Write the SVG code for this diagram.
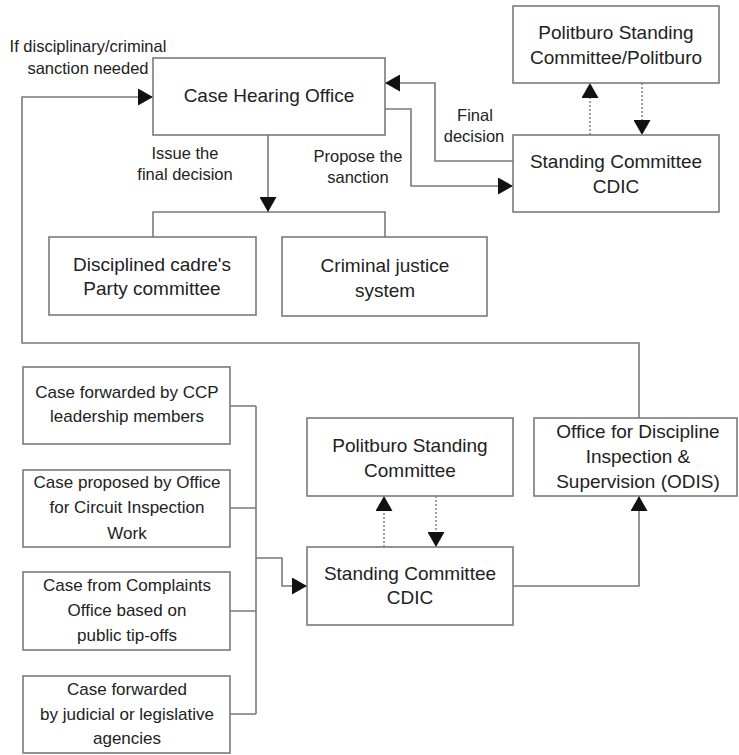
<svg xmlns="http://www.w3.org/2000/svg" width="739" height="755" viewBox="0 0 739 755">
<style>
.box{fill:#fff;stroke:#7a7a7a;stroke-width:1.6}
.t{font-family:"Liberation Sans",Arial,sans-serif;font-size:19px;fill:#222;text-anchor:middle}
.s{font-family:"Liberation Sans",Arial,sans-serif;font-size:17px;fill:#222;text-anchor:middle}
.l{font-family:"Liberation Sans",Arial,sans-serif;font-size:16.5px;fill:#222;text-anchor:middle}
.c{fill:none;stroke:#7a7a7a;stroke-width:1.6}
.d{fill:none;stroke:#8a8a8a;stroke-width:1.6;stroke-dasharray:2 2}
</style>
<defs>
<marker id="ah" markerUnits="userSpaceOnUse" markerWidth="16" markerHeight="17" refX="15" refY="8.5" orient="auto">
<path d="M0,0 L15,8.5 L0,17 z" fill="#111"/>
</marker>
</defs>
<rect width="739" height="755" fill="#fff"/>
<g id="connectors">
<path class="c" d="M639,418 V343 H22 V97 H153" marker-end="url(#ah)"/>
<path class="c" d="M513,161 H435 V83 H385" marker-end="url(#ah)"/>
<path class="c" d="M385,109 H411 V186 H513" marker-end="url(#ah)"/>
<path class="c" d="M268,135 V212" marker-end="url(#ah)"/>
<path class="c" d="M153,237 V212 H385 V237"/>
<path class="d" d="M590,135 V83" marker-end="url(#ah)"/>
<path class="d" d="M642,83 V135" marker-end="url(#ah)"/>
<path class="c" d="M230,406 H256 M230,508 H256 M230,611 H256 M230,714 H256 M256,406 V714"/>
<path class="c" d="M256,558 H282 V586 H307" marker-end="url(#ah)"/>
<path class="d" d="M384,547 V496" marker-end="url(#ah)"/>
<path class="d" d="M436,496 V547" marker-end="url(#ah)"/>
<path class="c" d="M513,586 H639 V496" marker-end="url(#ah)"/>
</g>
<g id="labels">
<text class="l" x="88" y="52">If disciplinary/criminal</text>
<text class="l" x="88" y="74">sanction needed</text>
<text class="l" x="185" y="159">Issue the</text>
<text class="l" x="185" y="180">final decision</text>
<text class="l" x="358" y="162">Propose the</text>
<text class="l" x="358" y="183">sanction</text>
<text class="l" x="475" y="121">Final</text>
<text class="l" x="474" y="142">decision</text>
</g>
<g id="case-hearing-office">
<rect class="box" x="153" y="58" width="232" height="77"/>
<text class="t" x="269" y="102">Case Hearing Office</text>
</g>
<g id="politburo-top">
<rect class="box" x="513" y="6" width="206" height="77"/>
<text class="t" x="616" y="39">Politburo Standing</text>
<text class="t" x="616" y="64">Committee/Politburo</text>
</g>
<g id="cdic-top">
<rect class="box" x="513" y="135" width="206" height="77"/>
<text class="t" x="616" y="168">Standing Committee</text>
<text class="t" x="616" y="193">CDIC</text>
</g>
<g id="party-committee">
<rect class="box" x="49" y="237" width="207" height="78"/>
<text class="t" x="152" y="271">Disciplined cadre's</text>
<text class="t" x="152" y="295">Party committee</text>
</g>
<g id="criminal-justice">
<rect class="box" x="282" y="237" width="205" height="79"/>
<text class="t" x="385" y="272">Criminal justice</text>
<text class="t" x="385" y="297">system</text>
</g>
<g id="case-ccp">
<rect class="box" x="23" y="367" width="207" height="77"/>
<text class="s" x="127" y="398">Case forwarded by CCP</text>
<text class="s" x="127" y="422">leadership members</text>
</g>
<g id="case-circuit">
<rect class="box" x="23" y="470" width="207" height="77"/>
<text class="s" x="127" y="488">Case proposed by Office</text>
<text class="s" x="127" y="513">for Circuit Inspection</text>
<text class="s" x="127" y="539">Work</text>
</g>
<g id="case-complaints">
<rect class="box" x="23" y="572" width="207" height="78"/>
<text class="s" x="127" y="591">Case from Complaints</text>
<text class="s" x="127" y="616">Office based on</text>
<text class="s" x="127" y="641">public tip-offs</text>
</g>
<g id="case-judicial">
<rect class="box" x="23" y="676" width="207" height="77"/>
<text class="s" x="127" y="695">Case forwarded</text>
<text class="s" x="127" y="720">by judicial or legislative</text>
<text class="s" x="127" y="744">agencies</text>
</g>
<g id="politburo-bottom">
<rect class="box" x="307" y="418" width="206" height="78"/>
<text class="t" x="410" y="452">Politburo Standing</text>
<text class="t" x="410" y="477">Committee</text>
</g>
<g id="cdic-bottom">
<rect class="box" x="307" y="547" width="206" height="78"/>
<text class="t" x="410" y="580">Standing Committee</text>
<text class="t" x="410" y="604">CDIC</text>
</g>
<g id="odis">
<rect class="box" x="534" y="418" width="203" height="78"/>
<text class="t" x="638" y="438">Office for Discipline</text>
<text class="t" x="638" y="463">Inspection &amp;</text>
<text class="t" x="638" y="488">Supervision (ODIS)</text>
</g>
</svg>
